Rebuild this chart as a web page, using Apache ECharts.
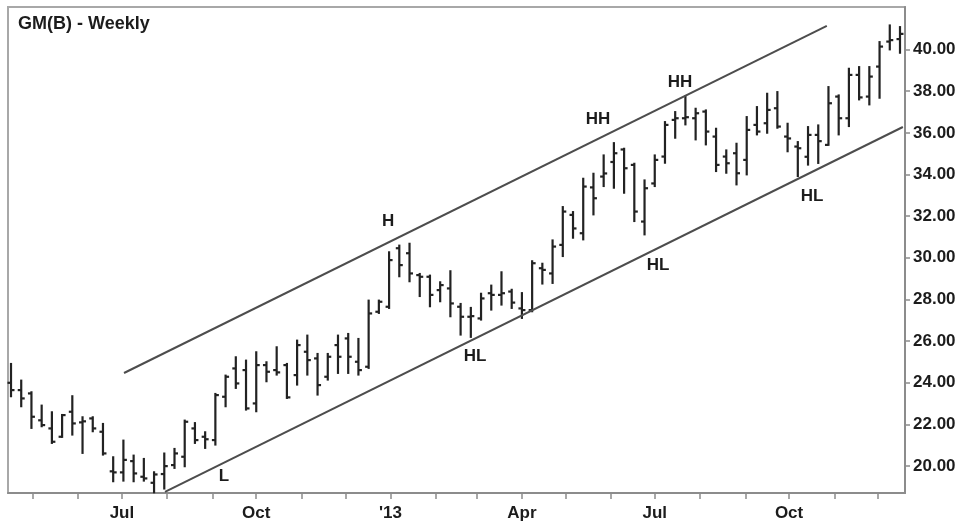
<!DOCTYPE html>
<html>
<head>
<meta charset="utf-8">
<script src="https://cdn.jsdelivr.net/npm/echarts@6/dist/echarts.min.js"></script>
<style>html,body{margin:0;padding:0;background:#fff;}#c{width:967px;height:528px;}</style>
</head>
<body>
<div id="c"></div>
<script>
// ---- data ----
const weekDates = [
'2012-04-16','2012-04-23','2012-04-30','2012-05-07','2012-05-14','2012-05-21','2012-05-28','2012-06-04','2012-06-11','2012-06-18',
'2012-06-25','2012-07-02','2012-07-09','2012-07-16','2012-07-23','2012-07-30','2012-08-06','2012-08-13','2012-08-20','2012-08-27',
'2012-09-03','2012-09-10','2012-09-17','2012-09-24','2012-10-01','2012-10-08','2012-10-15','2012-10-22','2012-10-29','2012-11-05',
'2012-11-12','2012-11-19','2012-11-26','2012-12-03','2012-12-10','2012-12-17','2012-12-24','2012-12-31','2013-01-07','2013-01-14',
'2013-01-21','2013-01-28','2013-02-04','2013-02-11','2013-02-18','2013-02-25','2013-03-04','2013-03-11','2013-03-18','2013-03-25',
'2013-04-01','2013-04-08','2013-04-15','2013-04-22','2013-04-29','2013-05-06','2013-05-13','2013-05-20','2013-05-27','2013-06-03',
'2013-06-10','2013-06-17','2013-06-24','2013-07-01','2013-07-08','2013-07-15','2013-07-22','2013-07-29','2013-08-05','2013-08-12',
'2013-08-19','2013-08-26','2013-09-02','2013-09-09','2013-09-16','2013-09-23','2013-09-30','2013-10-07','2013-10-14','2013-10-21',
'2013-10-28','2013-11-04','2013-11-11','2013-11-18','2013-11-25','2013-12-02','2013-12-09','2013-12-16'
];
const opens = [
24.00,23.65,23.49,22.20,21.81,21.41,22.61,22.10,22.29,21.65,
19.75,19.70,20.24,19.49,19.20,19.62,20.05,20.45,21.81,21.41,
21.25,23.33,24.69,24.61,23.01,24.85,24.61,24.85,24.37,25.49,
25.17,24.29,25.81,26.13,25.01,24.77,27.41,27.65,30.46,30.22,
29.17,29.09,28.45,28.53,27.65,27.17,27.09,28.30,28.22,28.38,
27.57,27.49,29.50,29.25,30.62,32.06,31.18,33.38,33.90,34.60,
35.20,34.46,31.74,33.57,34.86,36.62,36.70,36.70,37.02,35.82,
34.86,35.02,34.70,36.38,36.46,37.18,35.82,35.34,34.85,35.90,
35.42,37.74,36.70,38.78,37.74,39.18,40.38,40.50
];
const highs = [
24.93,24.13,23.57,22.93,22.61,22.48,23.38,22.37,22.37,22.05,
20.45,21.25,20.53,20.37,19.73,20.63,20.85,22.21,22.09,21.65,
23.49,24.37,25.25,25.09,25.49,25.01,25.73,24.93,26.05,26.29,
25.41,25.41,26.29,26.37,26.13,27.97,27.97,30.29,30.61,30.70,
29.25,29.17,28.85,29.38,27.81,27.62,28.30,28.69,29.33,28.49,
28.33,29.86,29.74,30.86,32.46,32.22,33.82,34.06,34.94,35.53,
35.26,34.54,33.74,34.94,36.54,37.02,37.77,37.18,37.10,36.22,
35.18,35.50,36.78,37.26,37.90,37.98,36.46,35.58,36.30,36.38,
38.22,37.82,39.10,39.18,39.18,40.38,41.18,41.10
];
const lows = [
23.33,22.85,21.81,21.89,21.09,21.38,21.49,20.61,21.65,20.53,
19.25,19.28,19.25,19.28,18.72,18.90,19.89,19.97,21.09,20.85,
21.01,22.85,23.73,22.69,22.61,24.05,24.37,23.25,23.89,24.37,
23.41,24.13,24.45,24.45,24.37,24.69,27.33,27.57,29.09,28.85,
28.14,27.65,27.89,27.17,26.29,26.18,27.01,27.49,27.73,27.57,
27.09,27.41,28.74,28.77,30.06,30.94,30.86,32.06,33.42,33.34,
33.10,31.74,31.10,33.42,34.54,35.74,36.38,35.66,35.42,34.14,
34.06,33.50,33.98,35.90,35.98,36.22,35.09,33.90,34.45,34.53,
35.40,35.90,36.30,37.58,37.34,37.66,39.98,39.82
];
const closes = [
23.65,23.25,22.37,21.97,21.17,22.45,22.05,22.15,21.81,20.61,
19.70,20.30,19.65,19.41,19.60,20.00,20.61,22.13,21.25,21.29,
23.41,24.29,23.97,22.77,24.85,24.53,24.50,23.30,25.81,25.09,
23.89,25.25,25.25,25.25,24.61,27.33,27.89,29.89,29.65,29.25,
29.09,28.22,28.69,27.81,27.17,27.20,28.05,28.22,28.30,27.85,
27.49,29.74,29.42,30.54,32.22,31.41,33.42,32.86,34.05,35.02,
34.30,32.22,33.34,34.70,36.38,36.70,36.75,36.94,36.06,34.46,
34.54,34.06,36.14,36.06,37.10,36.30,35.73,35.26,35.90,35.60,
37.42,36.70,38.78,37.70,38.70,40.14,40.45,40.75
];
// trend channel (week index, price)
const channelUpper = [[11.06, 24.47], [79.84, 41.13]];
const channelLower = [[15.07, 18.76], [87.28, 36.28]];
// annotations (week index, price)
const annoTexts = ['L', 'H', 'HL', 'HH', 'HH', 'HL', 'HL'];
const annoX = [20.85, 36.90, 45.41, 57.45, 65.47, 63.32, 78.39];
const annoY = [19.52, 31.77, 25.29, 36.66, 38.44, 29.65, 32.97];
// axis ticks
const xTickDates = ['2012-05-01','2012-06-01','2012-07-01','2012-08-01','2012-09-01','2012-10-01','2012-11-01','2012-12-01',
  '2013-01-01','2013-02-01','2013-03-01','2013-04-01','2013-05-01','2013-06-01','2013-07-01','2013-08-01','2013-09-01',
  '2013-10-01','2013-11-01','2013-12-01'];
const xTickLabels = ['','','Jul','','','Oct','','',"'13",'','','Apr','','','Jul','','','Oct','',''];
const yTicks = [20,22,24,26,28,30,32,34,36,38,40];
const chartTitle = 'GM(B) - Weekly';

// ---- build ----
const WEEK = 7 * 864e5;
const t0 = Date.parse(weekDates[0]);
const toIdx = d => (Date.parse(d) - t0) / WEEK;
const xTickPos = xTickDates.map(toIdx);
const xLabelPos = [], xLabelTxt = [];
xTickLabels.forEach((t, i) => { if (t) { xLabelPos.push(xTickPos[i]); xLabelTxt.push(t); } });

const ohlc = weekDates.map((d, i) => [i, opens[i], highs[i], lows[i], closes[i]]);
const annoData = annoX.map((x, i) => [x, annoY[i]]);

const FONT = "'Liberation Sans', Arial, Helvetica, sans-serif";
const TXT = '#1c1c1c';

const chart = echarts.init(document.getElementById('c'), null, {renderer: 'canvas'});
chart.setOption({
  animation: false,
  backgroundColor: '#ffffff',
  title: {
    text: chartTitle, left: 13, top: 10,
    textStyle: {fontFamily: FONT, fontWeight: 'bold', fontSize: 18, color: TXT}
  },
  grid: {left: 8, right: 62, top: 7, bottom: 35, show: true, borderColor: '#a8a8a8', borderWidth: 2, backgroundColor: '#ffffff'},
  xAxis: {
    type: 'value', min: -0.294, max: 87.49,
    axisLine: {show: true, onZero: false, lineStyle: {color: '#8c8c8c', width: 2}},
    axisTick: {show: true, length: 6, customValues: xTickPos, lineStyle: {color: '#8c8c8c', width: 1.5}},
    axisLabel: {
      customValues: xLabelPos, margin: 12,
      fontFamily: FONT, fontWeight: 'bold', fontSize: 17, color: TXT,
      formatter: v => {
        let best = 0, bd = Infinity;
        xLabelPos.forEach((p, i) => { const dd = Math.abs(p - v); if (dd < bd) { bd = dd; best = i; } });
        return xLabelTxt[best];
      }
    },
    splitLine: {show: false}
  },
  yAxis: {
    type: 'value', position: 'right', min: 18.71, max: 42.04, scale: true,
    axisLine: {show: true, onZero: false, lineStyle: {color: '#8c8c8c', width: 2}},
    axisTick: {show: true, length: 5, customValues: yTicks, lineStyle: {color: '#8c8c8c', width: 1.5}},
    axisLabel: {
      customValues: yTicks, margin: 8,
      fontFamily: FONT, fontWeight: 'bold', fontSize: 17, color: TXT,
      formatter: v => Number(v).toFixed(2)
    },
    splitLine: {show: false}
  },
  series: [
    {
      type: 'line', data: channelUpper, symbol: 'none', silent: true,
      lineStyle: {color: '#4d4d4d', width: 2}
    },
    {
      type: 'line', data: channelLower, symbol: 'none', silent: true,
      lineStyle: {color: '#4d4d4d', width: 2}
    },
    {
      type: 'custom', data: ohlc, encode: {x: 0, y: [1, 2, 3, 4]},
      renderItem: (params, api) => {
        const x = api.value(0);
        const o = api.coord([x, api.value(1)]);
        const h = api.coord([x, api.value(2)]);
        const l = api.coord([x, api.value(3)]);
        const c = api.coord([x, api.value(4)]);
        const w = 3.5;
        const style = {stroke: '#222222', lineWidth: 2.2};
        return {type: 'group', children: [
          {type: 'line', shape: {x1: h[0], y1: h[1] - 0.5, x2: l[0], y2: l[1] + 0.5}, style},
          {type: 'line', shape: {x1: o[0] - w, y1: o[1], x2: o[0], y2: o[1]}, style},
          {type: 'line', shape: {x1: c[0], y1: c[1], x2: c[0] + w, y2: c[1]}, style}
        ]};
      }
    },
    {
      type: 'custom', data: annoData, encode: {x: 0, y: 1}, silent: true,
      renderItem: (params, api) => {
        const p = api.coord([api.value(0), api.value(1)]);
        return {type: 'text', x: p[0], y: p[1], style: {
          text: annoTexts[params.dataIndex], fill: TXT, font: 'bold 17px ' + FONT,
          align: 'center', verticalAlign: 'middle'
        }};
      }
    }
  ]
});
</script>
</body>
</html>
